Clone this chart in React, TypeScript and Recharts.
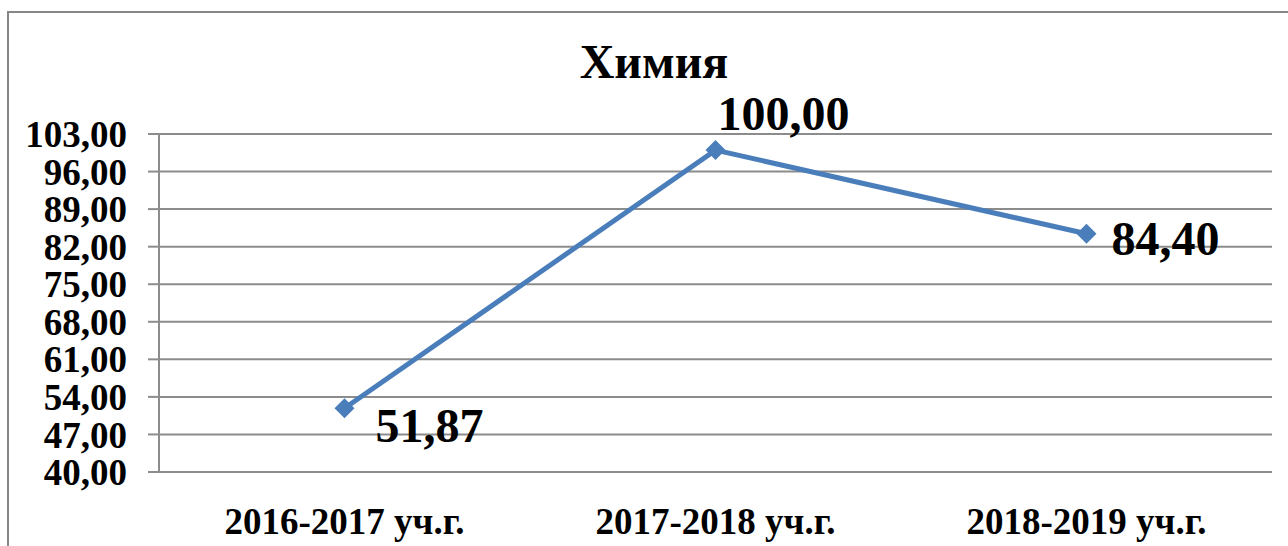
import React from "react";
import { CartesianGrid, LabelList, Line, LineChart, XAxis, YAxis } from "recharts";

const categories = ["2016-2017 уч.г.", "2017-2018 уч.г.", "2018-2019 уч.г."];
const values = [51.87, 100.0, 84.4];
const yTicks = [40, 47, 54, 61, 68, 75, 82, 89, 96, 103];
const edgeTicks = [0, 1, 2, 3];

const FONT = "Liberation Serif";
const LINE_COLOR = "#4a7ebb";
const GRID_COLOR = "#8c8c8c";

const data = categories.map((name, i) => ({ x: i + 0.5, name, value: values[i] }));

const fmt = (v: number) => v.toFixed(2).replace(".", ",");

// label offsets per point, relative to the marker
const labelOffsets = [
  { dx: 31, dy: 34 },
  { dx: 2, dy: -20 },
  { dx: 25, dy: 21 },
];

const Diamond = (props: any) => {
  const { cx, cy } = props;
  if (cx == null || cy == null) return null;
  const r = 10;
  return (
    <polygon
      points={`${cx},${cy - r} ${cx + r},${cy} ${cx},${cy + r} ${cx - r},${cy}`}
      fill={LINE_COLOR}
    />
  );
};

const ValueLabel = (props: any) => {
  const { x, y, value, index } = props;
  const o = labelOffsets[index] || { dx: 0, dy: 0 };
  return (
    <text
      x={x + o.dx}
      y={y + o.dy}
      style={{ fontFamily: FONT, fontWeight: 700, fontSize: 48 }}
      fill="#000"
      textAnchor="start"
    >
      {fmt(value)}
    </text>
  );
};

export default function App() {
  return (
    <div style={{ position: "absolute", left: 0, top: 0, width: 1288, height: 546, background: "#fff", overflow: "hidden", fontFamily: FONT }}>
      <div
        style={{
          position: "absolute",
          left: 7,
          top: 11,
          width: 1300,
          height: 560,
          borderLeft: "2px solid #868686",
          borderTop: "2px solid #868686",
        }}
      />
      <div
        style={{
          position: "absolute",
          left: 0,
          width: 1308,
          top: 33,
          textAlign: "center",
          fontFamily: FONT,
          fontWeight: 700,
          fontSize: 48,
          lineHeight: "58px",
        }}
      >
        Химия
      </div>
      <LineChart
        width={1288}
        height={546}
        data={data}
        margin={{ top: 134, right: 16, bottom: 0, left: 0 }}
        style={{ position: "absolute", left: 0, top: 0 }}
      >
        <CartesianGrid horizontal vertical={false} stroke={GRID_COLOR} strokeWidth={2} />
        <XAxis
          xAxisId="edges"
          dataKey="x"
          type="number"
          domain={[0, 3]}
          ticks={edgeTicks}
          tick={false}
          tickSize={10}
          height={0}
          axisLine={{ stroke: GRID_COLOR, strokeWidth: 2 }}
          tickLine={{ stroke: GRID_COLOR, strokeWidth: 2 }}
        />
        <XAxis
          xAxisId="cats"
          dataKey="x"
          type="number"
          domain={[0, 3]}
          ticks={data.map((d) => d.x)}
          tickFormatter={(v: number) => categories[Math.floor(v)]}
          height={74}
          tickSize={0}
          tickMargin={36}
          axisLine={false}
          tickLine={false}
          tick={{ fill: "#000", style: { fontFamily: FONT, fontWeight: 700, fontSize: 37 } }}
        />
        <YAxis
          domain={[40, 103]}
          ticks={yTicks}
          tickFormatter={fmt}
          width={159}
          tickSize={11}
          tickMargin={21}
          interval={0}
          axisLine={{ stroke: GRID_COLOR, strokeWidth: 2 }}
          tickLine={{ stroke: GRID_COLOR, strokeWidth: 2 }}
          tick={{ fill: "#000", style: { fontFamily: FONT, fontWeight: 700, fontSize: 37 } }}
        />
        <Line
          xAxisId="cats"
          dataKey="value"
          type="linear"
          stroke={LINE_COLOR}
          strokeWidth={5}
          dot={<Diamond />}
          activeDot={false}
          isAnimationActive={false}
        >
          <LabelList dataKey="value" content={<ValueLabel />} />
        </Line>
      </LineChart>
    </div>
  );
}
